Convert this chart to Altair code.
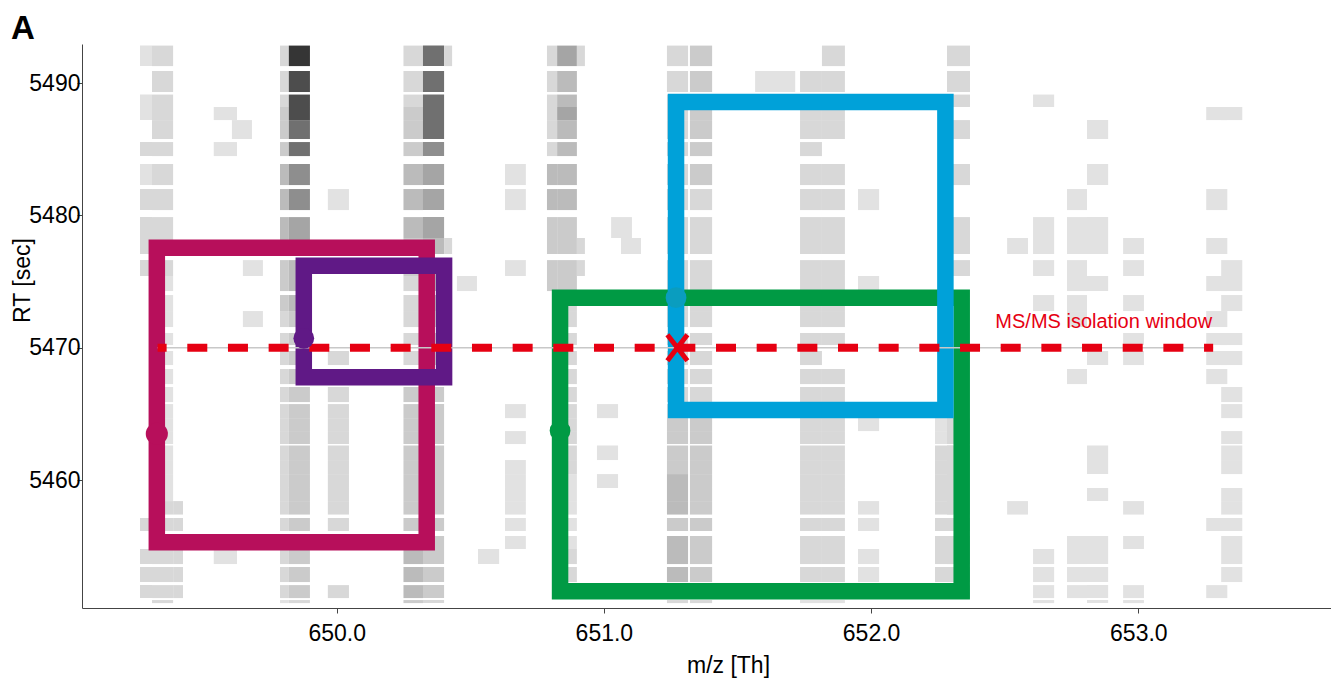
import altair as alt
import pandas as pd

# ---------------- data ----------------
# MS1 scans: retention-time extent of each scan row (sec)
SCAN_START = [5492.83, 5490.91, 5489.13, 5488.19, 5487.20, 5485.54, 5483.88, 5481.99,
              5479.87, 5478.29, 5476.62, 5475.42, 5473.98, 5472.77, 5471.11, 5469.75,
              5468.39, 5467.03, 5465.74, 5464.68, 5463.70, 5462.61, 5461.51, 5460.45,
              5459.40, 5458.41, 5457.13, 5455.77, 5454.79, 5453.43, 5452.06, 5450.93]
SCAN_END = [5491.28, 5489.32, 5488.19, 5487.20, 5485.77, 5484.48, 5482.29, 5480.40,
            5478.29, 5477.08, 5475.42, 5474.28, 5472.77, 5471.56, 5470.20, 5468.69,
            5467.25, 5465.89, 5464.68, 5463.70, 5462.72, 5461.51, 5460.45, 5459.40,
            5458.41, 5457.39, 5456.15, 5454.79, 5453.65, 5452.29, 5451.08, 5450.70]

# m/z bins (Th) and intensity level per scan row (0 = no signal, 9 = strongest)
COL_MZ_LO = [649.264, 649.309, 649.388, 649.540, 649.608, 649.649, 649.788, 649.821,
             649.967, 650.250, 650.323, 650.402, 650.450, 650.529, 650.630, 650.787,
             650.825, 650.899, 650.974, 651.027, 651.064, 651.236, 651.322, 651.566,
             651.734, 651.816, 651.951, 652.239, 652.284, 652.509, 652.606, 652.733,
             652.808, 652.943, 653.254, 653.310]
COL_MZ_HI = [649.309, 649.388, 649.425, 649.627, 649.683, 649.724, 649.821, 649.900,
             650.046, 650.323, 650.402, 650.432, 650.525, 650.608, 650.708, 650.825,
             650.899, 650.929, 651.053, 651.105, 651.139, 651.315, 651.405, 651.716,
             651.816, 651.902, 652.030, 652.307, 652.370, 652.587, 652.685, 652.808,
             652.887, 653.021, 653.333, 653.389]
COL_LEVELS = [
    "10110212222" + "000000000000000" + "202220",
    "22222222222" + "11111111111111" + "2222222",
    "0" * 25 + "2202220",
    "000101" + "0" * 22 + "1000",
    "00001" + "0" * 27,
    "0" * 10 + "1001" + "0" * 18,
    "2223334444333" + "2" * 14 + "0" + "222" + "1",
    "9888776655444" + "3" * 14 + "0" + "333" + "2",
    "0000000" + "1" + "0000000" + "2" + "2" + "2222" + "222222" + "000" + "2" + "0",
    "222333444332" + "22222" + "3" * 10 + "4444" + "3",
    "7777765554444" + "3" * 18 + "2",
    "2" + "0" * 8 + "2" + "0" * 22,
    "0" * 11 + "1" + "0" * 20,
    "0" * 28 + "1000",
    "000000" + "11" + "00" + "1" + "0" * 7 + "1" + "0" + "1" + "0" + "111111" + "0000",
    "222222" + "443333" + "0" * 20,
    "544544443333" + "2" * 11 + "11111" + "22" + "10",
    "2" + "0" * 8 + "22" + "0" * 21,
    "0" * 18 + "1" + "00" + "1" + "0" + "1" + "0" * 8,
    "0" * 8 + "1" + "0" * 23,
    "0" * 9 + "1" + "0" * 22,
    "22" + "2" * 17 + "3333" + "444" + "3" + "444" + "3" + "2",
    "33" + "33333" + "2" * 12 + "3" * 11 + "22",
    "01" + "0" * 30,
    "0" + "2" * 30 + "1",
    "22222" + "0" + "2" * 9 + "0" + "2" * 15 + "1",
    "0" * 7 + "1" + "000" + "1" + "0" * 7 + "1" + "0" * 5 + "11" + "0" + "111" + "0",
    "0" * 19 + "11" + "2" * 9 + "1" + "0",
    "222020202220" + "0" * 7 + "2" * 12 + "0",
    "0" * 9 + "1" + "0" * 15 + "1" + "0" * 6,
    "001" + "00000" + "111" + "0" + "1" + "0" * 15 + "1111",
    "0" * 7 + "1111111" + "00" + "1" + "0" * 10 + "1111" + "0",
    "0000" + "1" + "0" + "1" + "0" + "11" + "0" + "1" + "000" + "1" + "0" * 5 + "11" + "0" + "1" + "00" + "11111",
    "0" * 9 + "11" + "0" + "1" + "0" + "11" + "0" * 9 + "1" + "0" + "1" + "00" + "11",
    "0001" + "000" + "1" + "0" + "1" + "0" + "1" + "0" + "1111" + "0" * 9 + "1" + "000" + "1" + "0",
    "000" + "1" + "000000" + "111" + "0" + "11" + "0" + "11" + "0" + "111" + "0" + "111111" + "00",
]
GRAY_LEVELS = [1, 2, 3, 4, 5, 6, 7, 8, 9]
GRAY_COLORS = ["#e2e2e2", "#d8d8d8", "#cbcbcb", "#bbbbbb", "#a5a5a5",
               "#8e8e8e", "#707070", "#4d4d4d", "#353535"]

# feature boxes (m/z and RT extents), drawing order as in the figure
BOX_NAME = ["magenta", "purple", "green", "blue"]
BOX_MZ_LO = [649.327, 649.877, 650.836, 651.270]
BOX_MZ_HI = [650.337, 650.402, 652.339, 652.278]
BOX_RT_LO = [5455.29, 5467.77, 5451.59, 5465.29]
BOX_RT_HI = [5477.55, 5476.19, 5473.78, 5488.56]
BOX_COLOR = ["#b70f5b", "#601986", "#009a44", "#00a1d9"]

# monoisotopic feature apex points
PT_MZ = [649.327, 649.877, 650.836, 651.270]
PT_RT = [5463.50, 5470.71, 5463.73, 5473.78]
PT_COLOR = ["#b70f5b", "#601986", "#009a44", "#0a9dbf"]
PT_SIZE = [490, 430, 430, 430]

# MS/MS isolation window and precursor
ISO_MZ_LO, ISO_MZ_HI, ISO_RT = 649.33, 653.28, 5470.0
PREC_MZ, PREC_RT = 651.275, 5470.0
LABEL_TEXT = "MS/MS isolation window"
LABEL_MZ, LABEL_RT = 653.276, 5471.49

X_TICKS = [650.0, 651.0, 652.0, 653.0]
Y_TICKS = [5460, 5470, 5480, 5490]

# ---------------- build tables ----------------
rows = []
for lo, hi, levels in zip(COL_MZ_LO, COL_MZ_HI, COL_LEVELS):
    for i, ch in enumerate(levels):
        lv = int(ch)
        if lv > 0:
            rows.append({"mz": lo, "mz2": hi, "rt": SCAN_START[i], "rt2": SCAN_END[i], "level": lv})
cells = pd.DataFrame(rows)

boxes = pd.DataFrame({"name": BOX_NAME, "mz": BOX_MZ_LO, "mz2": BOX_MZ_HI,
                      "rt": BOX_RT_LO, "rt2": BOX_RT_HI, "color": BOX_COLOR})
pts = pd.DataFrame({"mz": PT_MZ, "rt": PT_RT, "color": PT_COLOR, "size": PT_SIZE})
iso = pd.DataFrame({"mz": [ISO_MZ_LO], "mz2": [ISO_MZ_HI], "rt": [ISO_RT]})
prec = pd.DataFrame({"mz": [PREC_MZ], "rt": [PREC_RT]})
lab = pd.DataFrame({"mz": [LABEL_MZ], "rt": [LABEL_RT], "text": [LABEL_TEXT]})
panel = pd.DataFrame({"t": ["A"]})

FONT = "Liberation Sans"
XS = alt.Scale(domain=[649.047, 653.721], nice=False, zero=False)
YS = alt.Scale(domain=[5450.33, 5492.95], nice=False, zero=False)
XAX = alt.Axis(values=X_TICKS, format=".1f", grid=False, title="m/z [Th]",
               labelFontSize=23, titleFontSize=23, labelFont=FONT, titleFont=FONT,
               titleFontWeight="normal", labelColor="#000", titleColor="#000",
               tickSize=5, labelPadding=9, domainColor="#444", tickColor="#444",
               titleX=646, titleY=64.5, titleBaseline="alphabetic")
YAX = alt.Axis(values=Y_TICKS, format="d", grid=False, title="RT [sec]",
               labelFontSize=23, titleFontSize=23, labelFont=FONT, titleFont=FONT,
               titleFontWeight="normal", labelColor="#000", titleColor="#000",
               tickSize=5, labelPadding=-3, domainColor="#444", tickColor="#444",
               titleX=-48, titleY=236, titleBaseline="bottom", titleAlign="center")


def X(f="mz"):
    return alt.X(f"{f}:Q", scale=XS, axis=XAX)


def Y(f="rt"):
    return alt.Y(f"{f}:Q", scale=YS, axis=YAX)


heat = alt.Chart(cells).mark_rect().encode(
    x=X(), x2="mz2:Q", y=Y(), y2="rt2:Q",
    color=alt.Color("level:O", scale=alt.Scale(domain=GRAY_LEVELS, range=GRAY_COLORS), legend=None),
)

box_layer = alt.Chart(boxes).mark_rect(filled=False, strokeWidth=16.5, fillOpacity=0).encode(
    x=X(), x2="mz2:Q", y=Y(), y2="rt2:Q",
    stroke=alt.Stroke("color:N", scale=None),
)

iso_gray = alt.Chart(iso).mark_rule(color="#c8c8c8", strokeWidth=1.5).encode(
    x=X(), x2="mz2:Q", y=Y())
iso_red = alt.Chart(iso).mark_rule(color="#e60012", strokeWidth=8,
                                   strokeDash=[20, 20.67], strokeDashOffset=11).encode(
    x=X(), x2="mz2:Q", y=Y())

pt_layer = alt.Chart(pts).mark_circle(opacity=1).encode(
    x=X(), y=Y(),
    fill=alt.Fill("color:N", scale=None),
    size=alt.Size("size:Q", scale=None),
)

cross = alt.Chart(prec).mark_point(
    shape="M-0.77,-1L0.77,1M-0.77,1L0.77,-1", filled=False, size=676,
    stroke="#e60012", strokeWidth=5, opacity=1,
).encode(x=X(), y=Y())

label = alt.Chart(lab).mark_text(
    align="right", baseline="alphabetic", fontSize=20, font=FONT, color="#e60012"
).encode(x=X(), y=Y(), text="text:N")

panel_txt = alt.Chart(panel).mark_text(
    align="left", baseline="alphabetic", fontSize=33, fontWeight="bold", font=FONT, color="#000"
).encode(x=alt.value(-71), y=alt.value(-5), text="t:N")

chart = alt.layer(heat, box_layer, iso_gray, iso_red, pt_layer, cross, label, panel_txt).properties(
    width=1249, height=564,
    autosize=alt.AutoSizeParams(type="none"),
    padding={"left": 74, "top": 36, "right": 0, "bottom": 70},
    background="white",
).configure_view(strokeWidth=0, stroke=None)

chart.save("out.html", embed_options={"renderer": "svg", "actions": False})
